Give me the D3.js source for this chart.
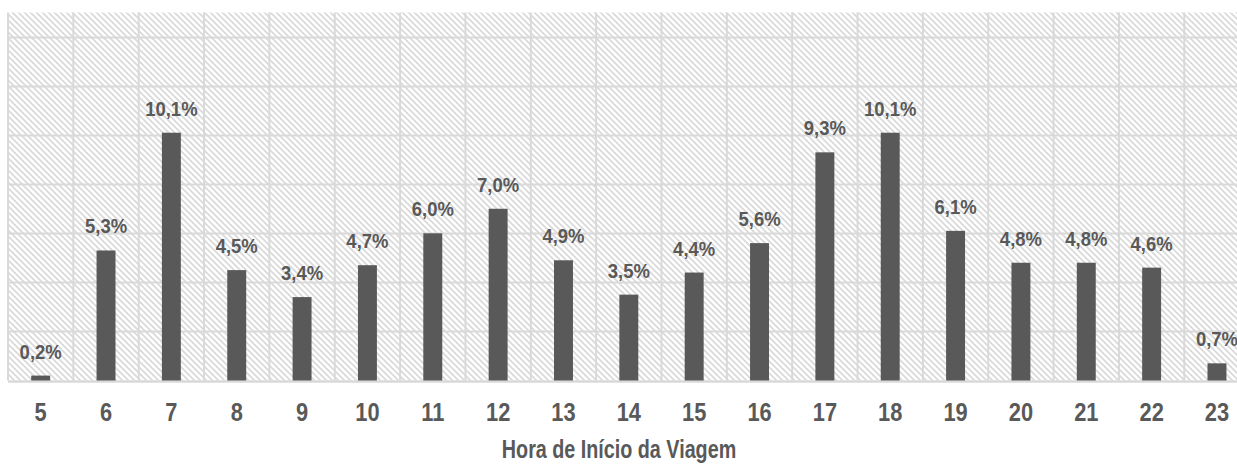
<!DOCTYPE html>
<html>
<head>
<meta charset="utf-8">
<script src="https://cdn.jsdelivr.net/npm/d3@7"></script>
<style>
  body { margin: 0; background: #fff; }
  text { font-family: "Liberation Sans Narrow", "Arial Narrow", "Liberation Sans", Arial, sans-serif; font-weight: bold; fill: #595959; }
</style>
</head>
<body>
<script>
// hours and share of trips (%)
var hours = [5, 6, 7, 8, 9, 10, 11, 12, 13, 14, 15, 16, 17, 18, 19, 20, 21, 22, 23];
var shares = [0.2, 5.3, 10.1, 4.5, 3.4, 4.7, 6.0, 7.0, 4.9, 3.5, 4.4, 5.6, 9.3, 10.1, 6.1, 4.8, 4.8, 4.6, 0.7];
var gridTicks = [0, 2, 4, 6, 8, 10, 12, 14];
var xTitle = "Hora de Início da Viagem";

var data = hours.map(function(h, i) { return {hour: h, value: shares[i]}; });

var W = 1237, H = 464;
var plot = {left: 8, top: 12.5, bandW: 65.35, bottom: 380.5};

var svg = d3.select("body").append("svg")
    .attr("width", W)
    .attr("height", H);

// hatch for the plot background
var defs = svg.append("defs");
defs.append("pattern")
    .attr("id", "hatch")
    .attr("patternUnits", "userSpaceOnUse")
    .attr("width", 6)
    .attr("height", 6)
  .append("path")
    .attr("d", "M0,0L6,6M-1,5L1,7M5,-1L7,1")
    .attr("stroke", "#d9d9d9")
    .attr("stroke-width", 1.7);

var x = d3.scaleBand()
    .domain(hours)
    .range([plot.left, plot.left + plot.bandW * hours.length])
    .paddingInner(0.71)
    .paddingOuter(0.355);

var xGrid = d3.scaleBand()
    .domain(hours)
    .range([plot.left, plot.left + plot.bandW * hours.length]);

var y = d3.scaleLinear()
    .domain([0, 15])
    .range([plot.bottom, plot.top]);

svg.append("rect")
    .attr("x", plot.left)
    .attr("y", plot.top)
    .attr("width", plot.bandW * hours.length)
    .attr("height", plot.bottom - plot.top)
    .attr("fill", "url(#hatch)");

// horizontal grid
svg.append("g").selectAll("line")
    .data(gridTicks)
  .enter().append("line")
    .attr("x1", plot.left)
    .attr("x2", plot.left + plot.bandW * hours.length)
    .attr("y1", function(d) { return Math.round(y(d)) + 0.5; })
    .attr("y2", function(d) { return Math.round(y(d)) + 0.5; })
    .attr("stroke", "#d9d9d9")
    .attr("stroke-width", function(d) { return d === 0 ? 2.5 : 2; });

// vertical grid at band edges
svg.append("g").selectAll("line")
    .data(hours)
  .enter().append("line")
    .attr("x1", function(d) { return xGrid(d); })
    .attr("x2", function(d) { return xGrid(d); })
    .attr("y1", plot.top)
    .attr("y2", plot.bottom)
    .attr("stroke", "#d9d9d9")
    .attr("stroke-width", 2);

// bars
svg.append("g").selectAll("rect")
    .data(data)
  .enter().append("rect")
    .attr("x", function(d) { return x(d.hour); })
    .attr("y", function(d) { return y(d.value); })
    .attr("width", x.bandwidth())
    .attr("height", function(d) { return y(0) - y(d.value); })
    .attr("fill", "#595959");

// value labels (narrowed, no narrow font installed)
svg.append("g").selectAll("text")
    .data(data)
  .enter().append("text")
    .attr("transform", function(d) {
      return "translate(" + (x(d.hour) + x.bandwidth() / 2) + "," + (y(d.value) - 17) + ") scale(0.88,1)";
    })
    .attr("text-anchor", "middle")
    .style("font-size", "21px")
    .text(function(d) { return d3.format(".1f")(d.value).replace(".", ",") + "%"; });

// x axis labels
var xAxis = svg.append("g")
    .attr("transform", "translate(0," + plot.bottom + ")")
    .call(d3.axisBottom(xGrid).tickSize(0).tickPadding(0));
xAxis.select(".domain").remove();
xAxis.selectAll("text")
    .attr("dy", null)
    .attr("y", 41)
    .attr("transform", "scale(0.84,1)")
    .style("font-size", "26px")
    .style("fill", "#595959");

// axis title
svg.append("text")
    .attr("transform", "translate(619,458) scale(0.79,1)")
    .attr("text-anchor", "middle")
    .style("font-size", "25px")
    .text(xTitle);
</script>
</body>
</html>
